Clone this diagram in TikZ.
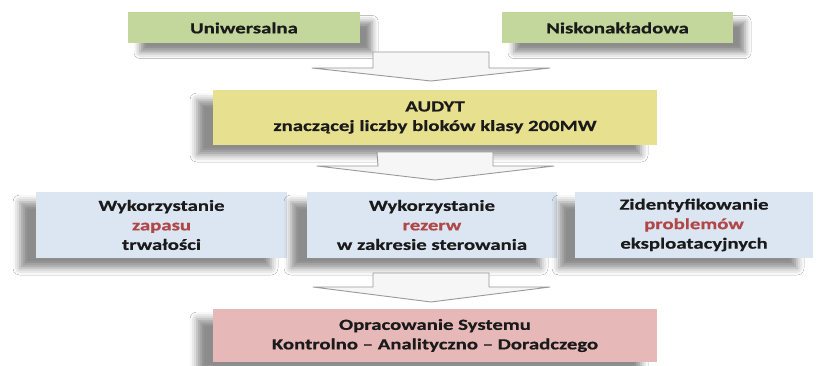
\documentclass[tikz,border=0pt]{standalone}
\usepackage{fontspec}
\newfontfamily\boxfont{Carlito}[FakeStretch=1.34, FakeBold=0.6]
\usetikzlibrary{shadows.blur}
\definecolor{boxgreen}{HTML}{C3D69B}
\definecolor{boxyellow}{HTML}{E6E08F}
\definecolor{boxblue}{HTML}{DCE6F2}
\definecolor{boxpink}{HTML}{E6B9B8}
\definecolor{txtdark}{HTML}{1A1A1A}
\definecolor{txtred}{HTML}{B04646}
\definecolor{arrowfill}{HTML}{F6F6F6}
\begin{document}
\begin{tikzpicture}[x=1pt,y=-1pt,
  box/.style={rectangle, inner sep=0pt, align=center, text=txtdark,
    font=\boxfont\bfseries\fontsize{15.5}{19.5}\selectfont},
  shadowR/.style={blur shadow={shadow xshift=12pt, shadow yshift=-9pt, shadow blur radius=6pt, shadow opacity=45}},
  shadowL/.style={blur shadow={shadow xshift=-16pt, shadow yshift=-10pt, shadow blur radius=7pt, shadow opacity=45}},
  bigarrow/.style={fill=arrowfill, draw=gray!80, line width=0.9pt, line join=round}
]
\useasboundingbox (0,0) rectangle (818,366);
\fill[white] (0,0) rectangle (818,366);

% top boxes
\node[box, shadowR, fill=boxgreen, minimum width=232pt, minimum height=31pt] (uni) at (244,28) {Uniwersalna};
\node[box, shadowR, fill=boxgreen, minimum width=231pt, minimum height=31pt] (nisko) at (617.5,28) {Niskonakładowa};

% audyt
\node[box, shadowL, fill=boxyellow, minimum width=444pt, minimum height=55pt] (audyt) at (435,117.5) {AUDYT\\znaczącej liczby bloków klasy 200MW};

% row 3
\node[box, shadowL, fill=boxblue, minimum width=251pt, minimum height=66pt] (w1) at (161.5,225) {Wykorzystanie\\{\color{txtred}zapasu}\\trwałości};
\node[box, shadowL, fill=boxblue, minimum width=250pt, minimum height=66pt] (w2) at (432,225) {Wykorzystanie\\{\color{txtred}rezerw}\\w zakresie sterowania};
\node[box, shadowL, fill=boxblue, minimum width=238pt, minimum height=66pt] (w3) at (694,225) {Zidentyfikowanie\\{\color{txtred}problemów}\\eksploatacyjnych};

% bottom
\node[box, shadowL, fill=boxpink, minimum width=444pt, minimum height=53pt] (sys) at (435,335.5) {Opracowanie Systemu\\Kontrolno – Analityczno – Doradczego};

% block arrows (drawn last, on top)
\coordinate (a1) at (431,52);
\draw[bigarrow] (a1) ++(-58,0) -- ++(116,0) -- ++(0,16) -- ++(61,0) -- (431,81) -- (312,68) -- ++(61,0) -- cycle;
\coordinate (a2) at (435,152);
\draw[bigarrow] (a2) ++(-58,0) -- ++(116,0) -- ++(0,14) -- ++(61,0) -- (435,180) -- (317,166) -- ++(61,0) -- cycle;
\coordinate (a3) at (431,273);
\draw[bigarrow] (a3) ++(-58,0) -- ++(116,0) -- ++(0,14) -- ++(61,0) -- (431,302) -- (313,287) -- ++(60,0) -- cycle;
\end{tikzpicture}
\end{document}
